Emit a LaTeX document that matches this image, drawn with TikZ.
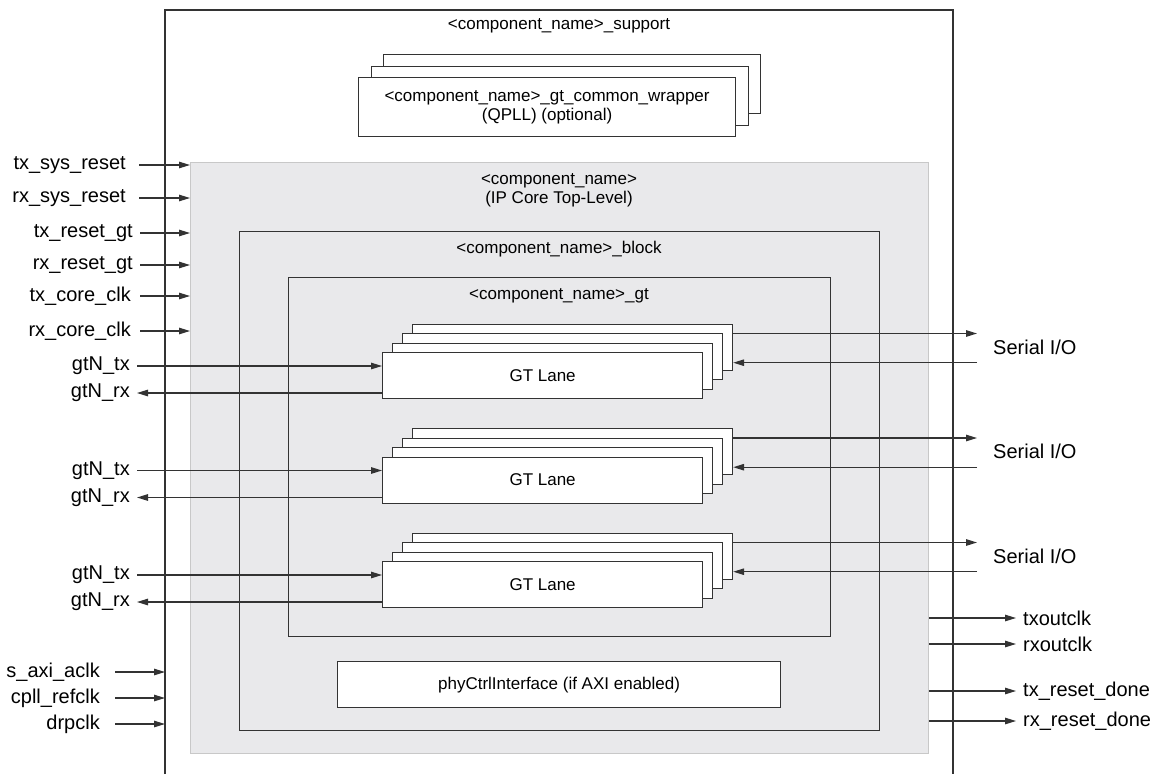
\documentclass[tikz,border=0pt]{standalone}
\usepackage{fontspec}
\setmainfont{Liberation Sans}
\usetikzlibrary{arrows.meta}
\definecolor{ipgray}{RGB}{233,233,235}
\definecolor{ipline}{RGB}{200,200,200}
\newcommand{\boxfont}{\fontsize{17}{19}\selectfont}
\newcommand{\lblfont}{\fontsize{20}{24}\selectfont}
\begin{document}
\begin{tikzpicture}[x=1pt,y=-1pt,
line/.style={draw=black!80,line width=1.2pt},
arr/.style={line,-{Triangle[length=11pt,width=6.5pt]}},
box/.style={line,fill=white,rectangle,inner sep=0pt,anchor=north west,font=\boxfont,align=center},
lane/.style={box,minimum width=320,minimum height=46},
wrap/.style={box,minimum width=377,minimum height=59},
title/.style={font=\boxfont,align=center},
lbl/.style={font=\lblfont,inner xsep=7pt,inner ysep=0pt}
]
\useasboundingbox (0,0) rectangle (1165,774);

\draw[line] (165,774) |- (953,10) -- (953,774);
\coordinate (suptl) at (165,10);
\node[title] (suptitle) at (559,26) {<component\_name>\_support};

\node[wrap] (wrapc) at (383,54) {};
\node[wrap] (wrapb) at (370.5,65.5) {};
\node[wrap] (wrapa) at (358,77) {<component\_name>\_gt\_common\_wrapper\\(QPLL) (optional)};

\node[line,draw=ipline,fill=ipgray,anchor=north west,minimum width=738,minimum height=591] (ipcore) at (190,162) {};
\node[title] (iptitle) at (559,190.5) {<component\_name>\\(IP Core Top-Level)};

\node[line,anchor=north west,minimum width=640,minimum height=499] (block) at (239,231) {};
\node[title] (blocktitle) at (559,249) {<component\_name>\_block};

\node[line,anchor=north west,minimum width=542,minimum height=359] (gt) at (288,277) {};
\node[title] (gttitle) at (559,296) {<component\_name>\_gt};

\node[box,minimum width=443,minimum height=46] (phy) at (337,661) {phyCtrlInterface (if AXI enabled)};

\foreach \i/\y in {1/352,2/456.5,3/561}{
  \node[lane] (lane\i-d) at (412,\y-28.5) {};
  \node[lane] (lane\i-c) at (402,\y-19) {};
  \node[lane] (lane\i-b) at (392,\y-9.5) {};
  \node[lane] (lane\i-a) at (382,\y) {GT Lane};
  \node[lbl,anchor=east] (gtx\i) at (137,\y+14) {gtN\_tx};
  \node[lbl,anchor=east] (grx\i) at (137,\y+41) {gtN\_rx};
  \node[lbl,anchor=west,inner xsep=16pt] (ser\i) at (977,\y-5) {Serial I/O};
  \coordinate (out\i) at ([yshift=-10pt]lane\i-d.north east);
  \coordinate (in\i) at ([yshift=8pt]lane\i-d.south east);
  \draw[arr] (gtx\i.east) -- (gtx\i.east -| lane\i-a.west);
  \draw[arr] (lane\i-a.west |- grx\i.east) -- (grx\i.east);
  \draw[arr] (out\i) -- (out\i -| ser\i.west);
  \draw[arr] (in\i -| ser\i.west) -- (in\i);
}

\node[lbl,anchor=east,inner xsep=13pt] (txsys) at (139,165) {tx\_sys\_reset};
\node[lbl,anchor=east,inner xsep=13pt] (rxsys) at (139,198) {rx\_sys\_reset};
\node[lbl,anchor=east] (txgt) at (140,233) {tx\_reset\_gt};
\node[lbl,anchor=east] (rxgt) at (140,265) {rx\_reset\_gt};
\node[lbl,anchor=east,inner xsep=9pt] (txcore) at (140,296) {tx\_core\_clk};
\node[lbl,anchor=east,inner xsep=9pt] (rxcore) at (140,331) {rx\_core\_clk};
\foreach \n in {txsys,rxsys,txgt,rxgt,txcore,rxcore}
  \draw[arr] (\n.east) -- (\n.east -| ipcore.west);

\node[lbl,anchor=east,inner xsep=15pt] (saxi) at (115,672) {s\_axi\_aclk};
\node[lbl,anchor=east,inner xsep=15pt] (cpll) at (115,698) {cpll\_refclk};
\node[lbl,anchor=east,inner xsep=15pt] (drp) at (115,724) {drpclk};
\foreach \n in {saxi,cpll,drp}
  \draw[arr] (\n.east) -- (\n.east -| suptl);

\node[lbl,anchor=west] (txout) at (1016,618) {txoutclk};
\node[lbl,anchor=west] (rxout) at (1016,644) {rxoutclk};
\node[lbl,anchor=west] (txdone) at (1016,691) {tx\_reset\_done};
\node[lbl,anchor=west] (rxdone) at (1016,721) {rx\_reset\_done};
\foreach \n in {txout,rxout,txdone,rxdone}
  \draw[arr] (ipcore.east |- \n.west) -- (\n.west);
\end{tikzpicture}
\end{document}
